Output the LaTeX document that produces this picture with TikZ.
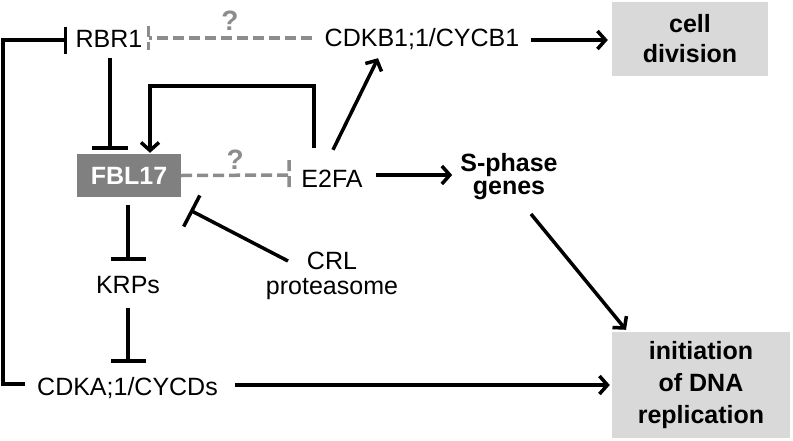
\documentclass[tikz,border=0pt]{standalone}
\usepackage{fontspec}
\setmainfont{Liberation Sans}
\usepackage{tikz}
\usetikzlibrary{calc, arrows.meta}

\definecolor{boxgray}{RGB}{217,217,217}
\definecolor{fblgray}{RGB}{128,128,128}
\definecolor{dashgray}{RGB}{140,140,140}

\tikzset{
  txt/.style={inner sep=0pt,text height=18pt,text depth=0pt,font=\fontsize{25}{25}\selectfont},
  act/.style={-{Straight Barb[length=8pt,width=18pt]},line width=3.5pt},
  inh/.style={-{Bar[width=#1]},line width=3.5pt},
  qdash/.style={dashgray,line width=3.5pt,dash pattern=on 11pt off 5pt},
  qmark/.style={text=dashgray,inner sep=0pt,font=\fontsize{28}{28}\selectfont\bfseries},
  outbox/.style={fill=boxgray,align=center,inner sep=0pt,font=\fontsize{25}{#1}\selectfont\bfseries}
}

\begin{document}
\begin{tikzpicture}[x=1pt,y=-1pt]
  \useasboundingbox (0,0) rectangle (793,440);
  \node[txt] (rbr1) at (109,38) {RBR1};
  \node[txt] (cdkb) at (422,37) {CDKB1;1/CYCB1};
  \node[outbox=30,minimum width=156pt,minimum height=74pt] (celldiv) at (690,39) {cell\\division};
  \node[fill=fblgray,text=white,minimum width=104pt,minimum height=43pt,inner sep=0pt,font=\fontsize{25}{25}\selectfont\bfseries] (fbl) at (129,175.5) {FBL17};
  \node[txt] (e2fa) at (332,178) {E2FA};
  \node[anchor=north,align=center,inner sep=0pt,font=\fontsize{25}{23}\selectfont\bfseries] (sphase) at (509,153) {S-phase\\genes};
  \node[txt] (krps) at (128,284) {KRPs};
  \node[anchor=north,align=center,inner sep=0pt,font=\fontsize{25}{25}\selectfont] (crl) at (332,252) {CRL\\proteasome};
  \node[txt] (cdka) at (127.5,386) {CDKA;1/CYCDs};
  \node[outbox=32,minimum width=178pt,minimum height=106pt] (initrep) at (701,385) {initiation\\of DNA\\replication};
  % activation
  \draw[act] ($(e2fa.north)+(-18,-21)$) -- ++(0,-62) -| ($(fbl.north)+(21,-1)$);
  \draw[act] ($(e2fa.north)+(1,-19)$) -- ($(cdkb.south)+(-44,12)$);
  \draw[act] ($(cdkb.east)+(12,3)$) -- ($(celldiv.west)+(-4,1)$);
  \draw[act] ($(e2fa.east)+(13,-3)$) -- ($(sphase.north west)+(-8,22)$);
  \draw[act] ($(sphase.north)+(22,61)$) -- ($(initrep.north)+(-75,-2)$);
  \draw[act] ($(cdka.east)+(17,-1)$) -- ($(initrep.west)+(-2,0)$);
  % inhibition
  \draw[inh=36pt] ($(rbr1.south)+(1,11)$) -- ($(fbl.north)+(-19,-4)$);
  \draw[inh=27pt] ($(cdka.west)+(-12,-2)$) -- ++(-22,0) |- ($(rbr1.west)+(-8,2)$);
  \draw[inh=35pt] ($(fbl.south)+(-1,8)$) -- ($(krps.north)+(0,-14)$);
  \draw[inh=35pt] ($(krps.south)+(0,15)$) -- ($(cdka.north)+(0.5,-14)$);
  \draw[inh=35pt] ($(crl.north)+(-44,9)$) -- ($(fbl.south east)+(9,13)$);
  % ?
  \draw[qdash] ($(cdkb.west)+(-13,1)$) -- node[qmark,midway,above=6pt]{?} ($(rbr1.east)+(6,0)$) ++(0,-12) -- ++(0,24);
  \draw[qdash] (fbl.east) -- node[qmark,midway,above=4pt]{?} ($(e2fa.west)+(-12,-3)$) ++(0,-15) -- ++(0,30);
\end{tikzpicture}
\end{document}
